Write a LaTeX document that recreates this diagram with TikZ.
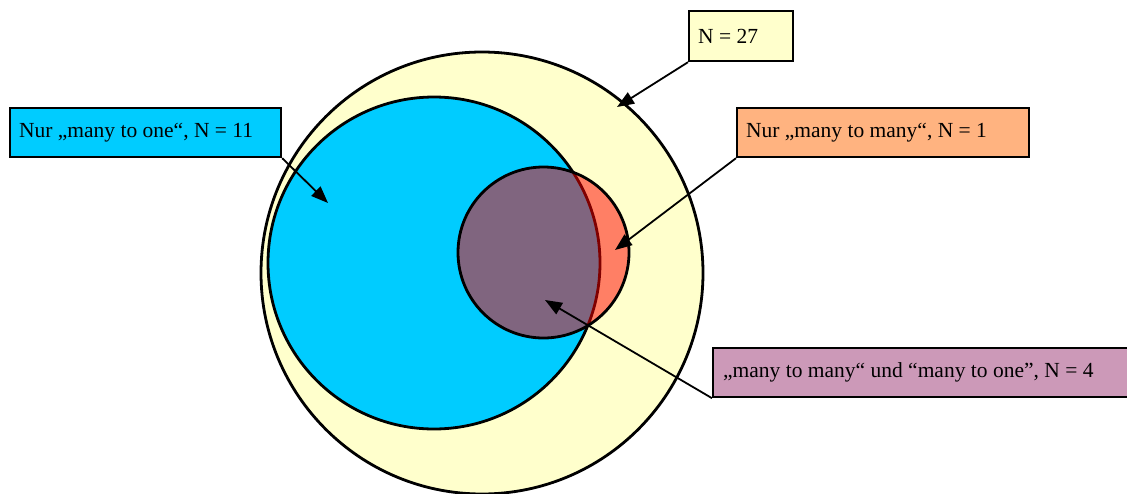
\documentclass[tikz,border=0pt]{standalone}
\usepackage{fontspec}
\setmainfont{Liberation Serif}
\usetikzlibrary{arrows.meta}

\definecolor{setall}{HTML}{FFFFCC}
\definecolor{setone}{HTML}{00CCFF}
\definecolor{setmany}{HTML}{FF0000}
\definecolor{boxmany}{HTML}{FFB380}
\definecolor{boxboth}{HTML}{CC99B8}

% box text set flush left in a field of fixed width
\newcommand{\boxtext}[2]{\makebox[#1][l]{#2}}

\tikzset{
  setcircle/.style={draw=black, line width=2.8pt},
  labelbox/.style={draw=black, line width=2.2pt, rectangle, anchor=north west,
    inner xsep=9pt, inner ysep=0pt, minimum height=49pt,
    font=\fontsize{21.5}{25}\selectfont},
  pointer/.style={draw=black, line width=1.8pt,
    -{Triangle[length=17pt,width=13pt]}},
}

\begin{document}
\begin{tikzpicture}[x=1pt, y=-1pt]
  \useasboundingbox (0,0) rectangle (1127,493);
  \begin{scope}
    \clip (0,0) rectangle (1127,493);

    % the three sets
    \draw[setcircle, fill=setall] (482,273) circle (221);
    \draw[setcircle, fill=setone] (434,263) circle (166);
    \path[fill=setmany, fill opacity=0.5] (543.5,252.5) circle (85.5);
    \draw[setcircle] (543.5,252.5) circle (85.5);

    % label boxes
    \node[labelbox, fill=setall, minimum height=50pt]
      (all) at (688,10) {\boxtext{86pt}{N = 27}};
    \node[labelbox, fill=setone]
      (one) at (9,107) {\boxtext{253pt}{Nur „many to one“, N = 11}};
    \node[labelbox, fill=boxmany]
      (many) at (736,107) {\boxtext{274pt}{Nur „many to many“, N = 1}};
    \node[labelbox, fill=boxboth, inner xsep=10pt]
      (both) at (712,347) {\boxtext{410pt}{„many to many“ und “many to one”, N = 4}};

    % pointer targets
    \coordinate (allT) at (617,107);
    \coordinate (oneT) at (328,203);
    \coordinate (manyT) at (615,250);
    \coordinate (bothT) at (545,300);

    % pointers
    \draw[pointer] (all.south west) -- (allT);
    \draw[pointer] (one.south east) -- (oneT);
    \draw[pointer] (many.south west) -- (manyT);
    \draw[pointer] (both.south west) -- (bothT);
  \end{scope}
\end{tikzpicture}
\end{document}
